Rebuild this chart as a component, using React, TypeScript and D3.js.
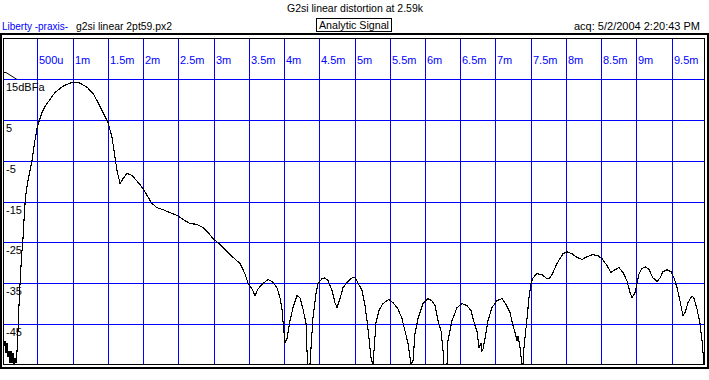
import React from "react";
import * as d3 from "d3";

const titleText = "G2si linear distortion at 2.59k";
const brandText = "Liberty -praxis-";
const fileText = "g2si linear 2pt59.px2";
const modeText = "Analytic Signal";
const acqText = "acq: 5/2/2004 2:20:43 PM";

const xTicks = [0.5, 1, 1.5, 2, 2.5, 3, 3.5, 4, 4.5, 5, 5.5, 6, 6.5, 7, 7.5, 8, 8.5, 9, 9.5];
const xTickLabels = ["500u", "1m", "1.5m", "2m", "2.5m", "3m", "3.5m", "4m", "4.5m", "5m", "5.5m", "6m", "6.5m", "7m", "7.5m", "8m", "8.5m", "9m", "9.5m"];
const yTicks = [15, 5, -5, -15, -25, -35, -45];
const yTickLabels = ["15dBFa", "5", "-5", "-15", "-25", "-35", "-45"];

// time in ms
const timeMs = [
  0.013, 0.028, 0.042, 0.056, 0.070, 0.084, 0.098, 0.113, 0.127, 0.141, 0.155, 0.169, 0.184, 0.198, 0.212,
  0.226, 0.240, 0.255, 0.269, 0.283, 0.297, 0.311, 0.326, 0.340, 0.368, 0.396, 0.425, 0.467, 0.496, 0.524,
  0.567, 0.609, 0.680, 0.751, 0.822, 0.893, 0.964, 1.035, 1.106, 1.205, 1.290, 1.361, 1.432, 1.503, 1.560,
  1.602, 1.631, 1.673, 1.716, 1.773, 1.843, 1.929, 1.999, 2.056, 2.127, 2.198, 2.283, 2.382, 2.482, 2.567,
  2.666, 2.766, 2.851, 2.922, 2.992, 3.063, 3.149, 3.234, 3.376, 3.446, 3.489, 3.546, 3.588, 3.631, 3.702,
  3.773, 3.830, 3.900, 3.943, 3.971, 3.985, 4.014, 4.042, 4.085, 4.127, 4.184, 4.227, 4.269, 4.312, 4.326,
  4.340, 4.368, 4.383, 4.411, 4.454, 4.482, 4.539, 4.581, 4.624, 4.681, 4.723, 4.752, 4.794, 4.837, 4.893,
  4.964, 5.007, 5.049, 5.106, 5.149, 5.177, 5.205, 5.234, 5.262, 5.276, 5.305, 5.347, 5.404, 5.489, 5.546,
  5.617, 5.674, 5.716, 5.759, 5.801, 5.830, 5.858, 5.901, 5.972, 6.043, 6.099, 6.142, 6.185, 6.227, 6.256,
  6.270, 6.312, 6.326, 6.383, 6.454, 6.525, 6.596, 6.652, 6.709, 6.737, 6.766, 6.794, 6.808, 6.823, 6.851,
  6.894, 6.950, 7.021, 7.092, 7.135, 7.206, 7.248, 7.277, 7.305, 7.319, 7.348, 7.376, 7.390, 7.404, 7.447,
  7.475, 7.504, 7.532, 7.589, 7.660, 7.731, 7.773, 7.816, 7.872, 7.915, 7.957, 8.014, 8.085, 8.156, 8.227,
  8.298, 8.383, 8.454, 8.511, 8.582, 8.638, 8.695, 8.752, 8.809, 8.865, 8.908, 8.937, 8.979, 9.008, 9.036,
  9.079, 9.135, 9.178, 9.235, 9.291, 9.334, 9.376, 9.433, 9.490, 9.532, 9.575, 9.617, 9.660, 9.689, 9.731,
  9.788, 9.816, 9.859, 9.901, 9.930, 9.958,
];

// level in dBFS
const levelDb = [
  -47.4, -50.3, -49.1, -52.1, -49.6, -53.0, -51.6, -54.5, -51.6, -54.5, -52.1, -54.8, -53.3, -54.5, -51.6,
  -46.7, -40.5, -35.1, -30.7, -27.0, -24.1, -19.7, -15.5, -13.0, -9.8, -7.4, -4.9, 0.0, 2.9, 4.6,
  6.8, 8.3, 10.0, 11.7, 12.7, 13.5, 14.0, 14.2, 14.0, 13.0, 11.5, 9.3, 6.8, 4.4, 0.7,
  -4.2, -7.4, -10.6, -9.4, -8.1, -8.6, -10.3, -11.8, -13.5, -15.5, -16.5, -17.0, -17.7, -18.4, -19.4,
  -20.4, -20.6, -21.4, -22.6, -24.1, -25.1, -26.5, -28.0, -30.2, -32.7, -34.9, -36.4, -38.1, -36.4, -35.1,
  -34.1, -34.6, -36.1, -38.6, -41.3, -44.2, -49.6, -48.6, -44.2, -41.0, -38.1, -38.6, -41.3, -44.9, -51.6,
  -55.0, -55.0, -50.8, -43.5, -37.6, -35.1, -33.9, -33.7, -34.4, -36.8, -39.8, -41.0, -38.8, -36.1, -34.9,
  -33.7, -33.7, -34.9, -36.8, -40.5, -44.2, -48.4, -53.3, -55.0, -51.6, -44.7, -41.7, -40.0, -39.0, -39.8,
  -41.3, -43.7, -46.7, -49.8, -55.0, -54.0, -47.4, -43.7, -40.0, -38.8, -39.3, -40.5, -44.2, -46.7, -51.6,
  -55.0, -55.0, -49.1, -44.2, -41.0, -40.0, -40.5, -41.7, -45.4, -46.7, -50.8, -49.8, -51.6, -51.1, -48.6,
  -44.2, -41.0, -39.3, -38.8, -39.8, -42.2, -45.4, -47.1, -49.1, -47.9, -50.8, -55.0, -55.0, -50.8, -43.7,
  -38.6, -35.1, -33.7, -32.7, -32.9, -33.9, -33.7, -32.4, -30.2, -29.0, -27.8, -27.3, -27.8, -28.7, -29.2,
  -28.5, -28.0, -28.3, -29.0, -30.7, -32.4, -31.7, -31.2, -32.4, -34.4, -37.3, -38.6, -37.3, -35.1, -32.7,
  -31.4, -31.0, -31.7, -33.7, -34.6, -33.7, -32.2, -31.7, -32.2, -33.7, -36.1, -39.3, -43.0, -42.2, -39.8,
  -38.1, -38.8, -41.3, -44.9, -49.1, -54.8,
];

const FONT = "'Liberation Sans', Arial, sans-serif";
const BLUE = "#0000ff";

export default function App() {
  const W = 709;
  const H = 380;
  const plot = { left: 3, right: 704, top: 38, bottom: 364 };

  const x = d3.scaleLinear().domain([0, 10]).range([2.06, 706.96]);
  const y = d3.scaleLinear().domain([-55, 25]).range([364.8, 38.2]);

  const pts: [number, number][] = timeMs.map((t, i) => [t, levelDb[i]]);
  const line = d3
    .line<[number, number]>()
    .x((d) => x(d[0]))
    .y((d) => y(d[1]));

  const snap = (v: number) => Math.round(v) + 0.5;

  return (
    <div style={{ position: "absolute", left: 0, top: 0 }}>
      <svg width={W} height={H} style={{ display: "block", background: "#fff" }} fontFamily={FONT} fontSize={11}>
        <rect x={0} y={0} width={W} height={H} fill="#fff" />
        {/* header */}
        <text x={287} y={12} textLength={136} lengthAdjust="spacingAndGlyphs" fill="#000">{titleText}</text>
        <text x={2} y={30} textLength={66} lengthAdjust="spacingAndGlyphs" fill={BLUE}>{brandText}</text>
        <text x={76} y={30} textLength={96} lengthAdjust="spacingAndGlyphs" fill="#000">{fileText}</text>
        <rect x={316.5} y={18.5} width={75} height={13} fill="none" stroke="#000" strokeWidth={1} shapeRendering="crispEdges" />
        <text x={319} y={29} textLength={70} lengthAdjust="spacingAndGlyphs" fill="#000">{modeText}</text>
        <text x={574} y={30} textLength={126} lengthAdjust="spacingAndGlyphs" fill="#000">{acqText}</text>

        <defs>
          <clipPath id="plotClip">
            <rect x={plot.left} y={plot.top} width={plot.right - plot.left + 1} height={plot.bottom - plot.top + 1} />
          </clipPath>
        </defs>

        {/* grid */}
        <g shapeRendering="crispEdges" stroke={BLUE} strokeWidth={1}>
          {xTicks.map((t) => (
            <line key={"vx" + t} x1={snap(x(t))} x2={snap(x(t))} y1={plot.top} y2={plot.bottom} />
          ))}
          {yTicks.map((v) => (
            <line key={"hy" + v} x1={plot.left} x2={plot.right} y1={snap(y(v))} y2={snap(y(v))} />
          ))}
        </g>

        {/* x labels */}
        <g fill={BLUE}>
          {xTicks.map((t, i) => (
            <text key={"xl" + t} x={Math.round(x(t)) + 2} y={64}>{xTickLabels[i]}</text>
          ))}
        </g>
        {/* y labels */}
        <g fill="#000">
          {yTicks.map((v, i) => (
            <text key={"yl" + v} x={6} y={Math.round(y(v)) + 12}>{yTickLabels[i]}</text>
          ))}
        </g>

        {/* corner marker */}
        <polyline points="3.5,72.5 6,72.5 17,79.5" fill="none" stroke="#000" strokeWidth={1} />

        {/* data */}
        <path d={line(pts) || ""} fill="none" stroke="#000" strokeWidth={1.1} clipPath="url(#plotClip)" shapeRendering="crispEdges" />

        {/* frames */}
        <g shapeRendering="crispEdges" fill="none" stroke="#000">
          <rect x={plot.left + 0.5} y={plot.top + 0.5} width={plot.right - plot.left} height={plot.bottom - plot.top} strokeWidth={1} />
          <rect x={1} y={34} width={707} height={334} strokeWidth={2} />
        </g>
      </svg>
    </div>
  );
}
